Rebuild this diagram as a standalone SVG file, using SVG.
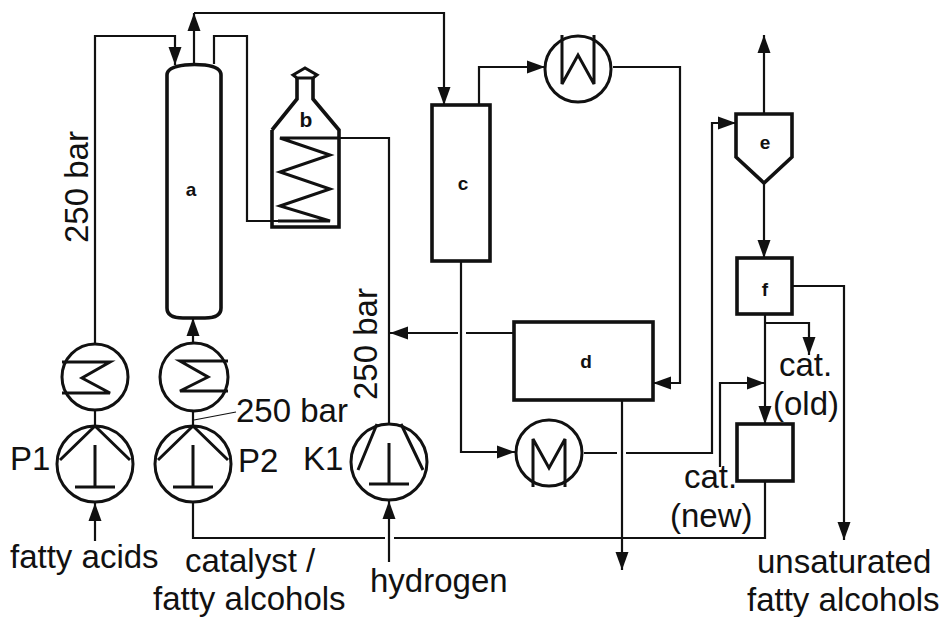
<svg xmlns="http://www.w3.org/2000/svg" width="945" height="617" viewBox="0 0 945 617">
<style>
.e{fill:none;stroke:#111;stroke-width:3.6;stroke-linejoin:miter}
.t{fill:none;stroke:#111;stroke-width:3;stroke-linejoin:miter}
.c{fill:none;stroke:#111;stroke-width:2.2;stroke-linejoin:miter}
.a{marker-end:url(#ah)}
text{font-family:"Liberation Sans",Arial,sans-serif;fill:#111}
.l{font-size:33px}
.n{font-size:19px;font-weight:bold}
</style>
<defs>
<marker id="ah" markerUnits="userSpaceOnUse" markerWidth="19" markerHeight="14" refX="18" refY="7" orient="auto"><path d="M0,0.5L18,7L0,13.5z" fill="#111"/></marker>
</defs>
<rect width="945" height="617" fill="#fff"/>
<g id="connectors">
<path class="c a" d="M95,343V36H175V65"/>
<path class="c a" d="M194,64V13"/>
<path class="c a" d="M194,13H444V105"/>
<path class="c" d="M214,64V36H247V221H278"/>
<path class="c" d="M389,423V138H339"/>
<path class="c a" d="M95,541V503"/>
<path class="c a" d="M389,562V501"/>
<path class="c a" d="M193,343V318"/>
<path class="c" d="M95,410V426M193,410V426"/>
<path class="c" d="M193,503V538H385M394,538H765V481"/>
<path class="c a" d="M479,105V67H545"/>
<path class="c a" d="M613,67H680V383H653"/>
<path class="c a" d="M461,261V452H515"/>
<path class="c" d="M584,453H617"/>
<path class="c a" d="M626,453H712V123H736"/>
<path class="c" d="M514,333H466"/>
<path class="c a" d="M458,333H390"/>
<path class="c a" d="M622,400V570"/>
<path class="c a" d="M764,114V35"/>
<path class="c a" d="M764,183V258"/>
<path class="c a" d="M792,286H844V540"/>
<path class="c a" d="M765,314V424"/>
<path class="c a" d="M765,323H809V355"/>
<path class="c a" d="M720,467V383H765"/>
<path d="M194,420L236,412" fill="none" stroke="#111" stroke-width="1.2"/>
</g>
<g id="a"><path class="e" d="M167,75Q167,67 185,65Q194,64 205,65Q221,67 221,75V308Q221,318 205,318H183Q167,318 167,308Z"/><text class="n" x="191" y="196" text-anchor="middle">a</text></g>
<g id="b"><path class="e" d="M272,130L297,99V78M313,78V99L339,130V227H272V130"/><path class="t" d="M293,75L305,68L317,75L313,78H297Z"/><path class="t" d="M339,138H280L330,155L280,172L330,189L280,206L330,221H278"/><text x="306" y="127" text-anchor="middle" font-size="21" font-weight="bold">b</text></g>
<g id="c"><rect class="e" x="432" y="105" width="58" height="156"/><text class="n" x="463" y="190" text-anchor="middle">c</text></g>
<g id="condenser"><circle class="t" cx="578" cy="69" r="33"/><path class="t" d="M562,35V84L578,55L594,84V35"/></g>
<g id="d"><rect class="e" x="514" y="322" width="139" height="78"/><text class="n" x="586" y="368" text-anchor="middle">d</text></g>
<g id="cooler"><circle class="t" cx="549" cy="453" r="33"/><path class="t" d="M533,487V439L549,468L565,439V487"/></g>
<g id="e"><path class="e" d="M736,114H792V157L764,183L736,157Z"/><text class="n" x="765" y="149" text-anchor="middle">e</text></g>
<g id="f"><rect class="e" x="737" y="258" width="55" height="56"/><text class="n" x="765" y="296" text-anchor="middle">f</text></g>
<g id="g"><rect class="e" x="737" y="424" width="56" height="57"/></g>
<g id="hx1"><circle class="t" cx="95" cy="377" r="33"/><path class="t" d="M62,362H110L82,378L110,393H62"/></g>
<g id="hx2"><circle class="t" cx="194" cy="377" r="34"/><path class="t" d="M228,361H180L208,377L180,391H228"/></g>
<g id="P1"><circle class="t" cx="95" cy="464" r="38"/><path class="t" d="M60,460L95,426L130,460M95,445V487M75,487H115"/><text class="l" x="10" y="470">P1</text></g>
<g id="P2"><circle class="t" cx="193" cy="464" r="38"/><path class="t" d="M158,460L193,426L228,460M193,445V487M173,487H213"/><text class="l" x="238" y="472">P2</text></g>
<g id="K1"><circle class="t" cx="389" cy="462" r="38"/><path class="t" d="M358,470L377,424M423,470L401,424M389,443V484M369,484H409"/><text class="l" x="303" y="470">K1</text></g>
<g id="labels">
<text class="l" transform="translate(88,243) rotate(-90)">250 bar</text>
<text class="l" transform="translate(377,400) rotate(-90)">250 bar</text>
<text class="l" x="236" y="422">250 bar</text>
<text class="l" x="10" y="568">fatty acids</text>
<text class="l" x="185" y="572">catalyst /</text>
<text class="l" x="153" y="610">fatty alcohols</text>
<text class="l" x="370" y="592">hydrogen</text>
<text class="l" x="684" y="488">cat.</text>
<text class="l" x="670" y="527">(new)</text>
<text class="l" x="779" y="376">cat.</text>
<text class="l" x="773" y="415">(old)</text>
<text class="l" x="757" y="573">unsaturated</text>
<text class="l" x="747" y="611">fatty alcohols</text>
</g>
</svg>
